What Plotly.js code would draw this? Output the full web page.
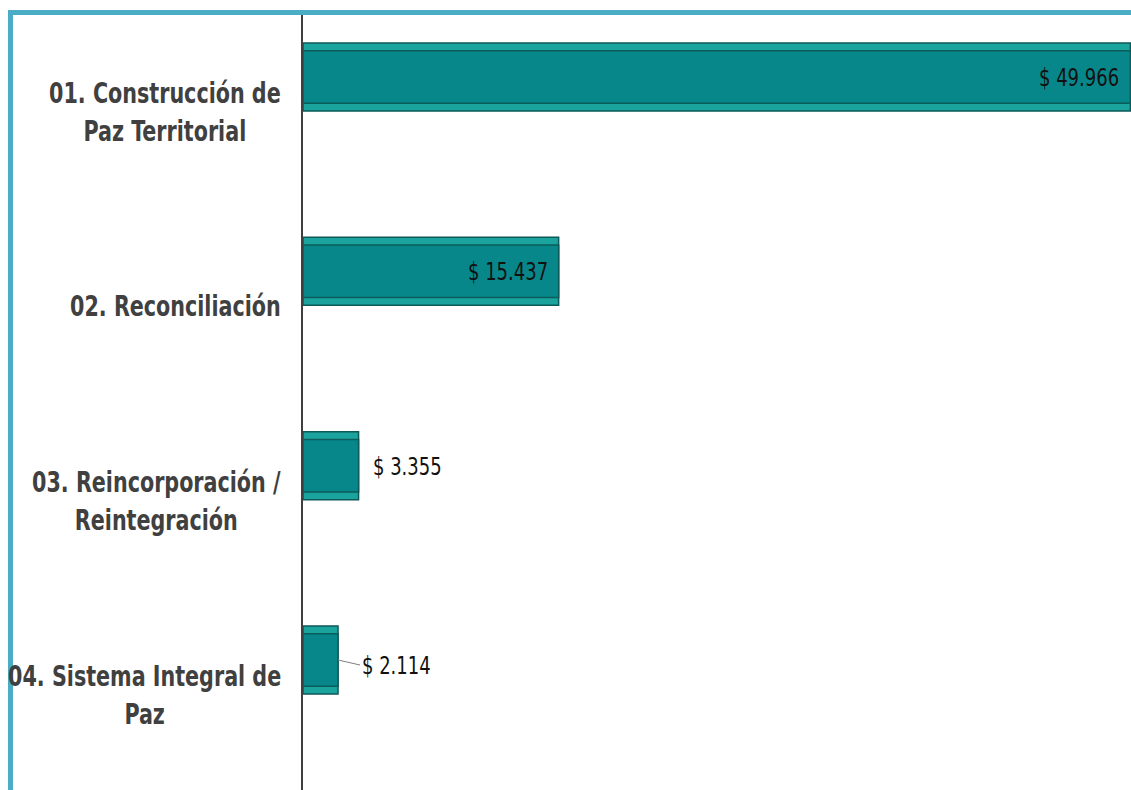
<!DOCTYPE html>
<html>
<head>
<meta charset="utf-8">
<script src="https://cdn.plot.ly/plotly-3.0.1.min.js"></script>
<style>
  html, body { margin: 0; padding: 0; background: #ffffff; }
  #chart { width: 1131px; height: 790px; }
</style>
</head>
<body>
<div id="chart"></div>
<script>
// Data
const categories = [
  "01. Construcción de<br>Paz Territorial",
  "02. Reconciliación",
  "03. Reincorporación /<br>Reintegración",
  "04. Sistema Integral de<br>Paz"
];
const values = [49966, 15437, 3355, 2114];
const valueLabels = ["$ 49.966", "$ 15.437", "$ 3.355", "$ 2.114"];
const labelPlacement = ["inside", "inside", "outside", "leader"];

const catKeys = categories.map((c, i) => "c" + i);

const labelFont = { family: "DejaVu Sans Condensed, Liberation Sans Narrow, sans-serif", size: 23, color: "#404040", weight: 700 };
const valueFont = { family: "DejaVu Sans Condensed, Liberation Sans Narrow, sans-serif", size: 20, color: "#111111" };

// outer bar (bevel band) and inner face, both drawn from the same values
const outer = {
  type: "bar", orientation: "h", x: values, y: catKeys, width: 0.35,
  marker: { color: "#1ba39e", line: { color: "#0d5957", width: 1.5 } },
  hoverinfo: "none"
};
const inner = {
  type: "bar", orientation: "h", x: values, y: catKeys, width: 0.27,
  marker: { color: "#07878a", line: { color: "#0b5c5b", width: 1.5 } },
  hoverinfo: "none"
};

const annotations = [];
categories.forEach((c, i) => {
  annotations.push({
    xref: "paper", yref: "y", x: 0, y: catKeys[i],
    xanchor: "right", yanchor: "middle", xshift: -20, yshift: -35,
    text: c, align: "center", showarrow: false, font: labelFont
  });
});
values.forEach((v, i) => {
  const p = labelPlacement[i];
  if (p === "inside") {
    annotations.push({ x: v, y: catKeys[i], xref: "x", yref: "y", xanchor: "right", yanchor: "middle",
      xshift: -9, text: valueLabels[i], showarrow: false, font: valueFont });
  } else if (p === "outside") {
    annotations.push({ x: v, y: catKeys[i], xref: "x", yref: "y", xanchor: "left", yanchor: "middle",
      xshift: 12, text: valueLabels[i], showarrow: false, font: valueFont });
  } else {
    annotations.push({ x: v, y: catKeys[i], xref: "x", yref: "y", xanchor: "left", yanchor: "middle",
      text: valueLabels[i], showarrow: true, arrowhead: 0, arrowwidth: 1, arrowcolor: "#7f7f7f",
      ax: 22, ay: 5, standoff: 0, font: valueFont });
  }
});

const layout = {
  width: 1131, height: 790,
  margin: { l: 303, r: 0, t: 15, b: 0, pad: 0 },
  paper_bgcolor: "#ffffff", plot_bgcolor: "#ffffff",
  showlegend: false,
  barmode: "overlay",
  xaxis: { range: [0, 50000], visible: false, fixedrange: true },
  yaxis: {
    type: "category", range: [3.669, -0.319],
    showticklabels: false, ticks: "", showgrid: false, zeroline: false,
    showline: true, linecolor: "#3f3f3f", linewidth: 2.5, fixedrange: true
  },
  annotations: annotations,
  shapes: [
    { type: "rect", xref: "paper", yref: "paper", layer: "above",
      x0: (8 - 303) / 828, x1: (13 - 303) / 828, y0: -0.1, y1: 1 + 5 / 775,
      fillcolor: "#4bacc6", line: { width: 0 } },
    { type: "rect", xref: "paper", yref: "paper", layer: "above",
      x0: (8 - 303) / 828, x1: 1.05, y0: 1, y1: 1 + 5 / 775,
      fillcolor: "#4bacc6", line: { width: 0 } }
  ]
};

Plotly.newPlot("chart", [outer, inner], layout, { displayModeBar: false, staticPlot: true }).then(function (gd) {
  // the reference's text is drawn taller than wide: stretch annotation text vertically about its centre
  const texts = gd.querySelectorAll(".annotation-text-g text");
  texts.forEach(function (t) {
    const b = t.getBBox();
    const cx = b.x + b.width / 2, cy = b.y + b.height / 2;
    t.setAttribute("transform", "translate(" + cx + "," + cy + ") scale(1,1.25) translate(" + (-cx) + "," + (-cy) + ")");
  });
});
</script>
</body>
</html>
